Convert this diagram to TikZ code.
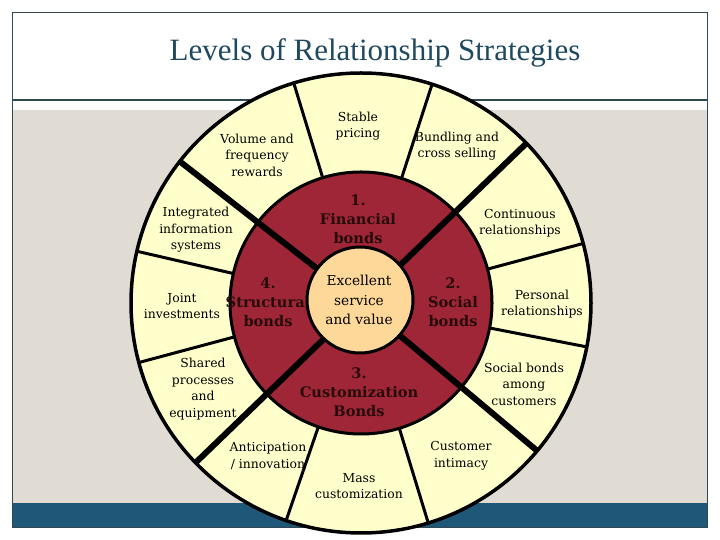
\documentclass[tikz,border=0pt]{standalone}
\usepackage{fontspec}
\setmainfont{DejaVu Serif}
\newfontfamily\titlefont{Liberation Serif}
\definecolor{paleyel}{RGB}{255,255,204}
\definecolor{bondred}{RGB}{158,38,54}
\definecolor{peach}{RGB}{253,216,153}
\definecolor{beige}{RGB}{224,220,211}
\definecolor{barblue}{RGB}{31,87,120}
\definecolor{framec}{RGB}{47,72,84}
\definecolor{titlec}{RGB}{31,73,95}
\definecolor{bondtext}{RGB}{40,12,12}
\tikzset{
  small/.style={align=center, inner sep=0pt, text=black, font={\fontsize{12.4}{16.5}\selectfont}},
  bondlbl/.style={align=center, inner sep=0pt, text=bondtext, font={\fontsize{14.6}{19}\selectfont\bfseries}},
  corelbl/.style={align=center, inner sep=0pt, text=black, font={\fontsize{13.7}{19.5}\selectfont}},
  thinspoke/.style={line width=3pt, black},
  thickspoke/.style={line width=6pt, black},
}
\begin{document}
\begin{tikzpicture}[x=1pt,y=1pt]
\useasboundingbox (0,0) rectangle (720,540);
\fill[white] (0,0) rectangle (720,540);
% slide background
\fill[beige] (13,37) rectangle (707,430);
\fill[barblue] (12.5,12.5) rectangle (707.5,37);
\draw[framec, line width=1.2pt] (12.5,12.5) rectangle (707.5,527.5);
\draw[framec, line width=1.2pt] (12.5,440) -- (707.5,440);
\node[text=titlec, font={\titlefont\fontsize{31}{36}\selectfont}] (title) at (375,487) {Levels of Relationship Strategies};
% wheel
\coordinate (C) at (361,237);
\fill[paleyel] (C) circle (230);
\foreach \a in {72,107,167,195,251,287,-11,15}
  \draw[thinspoke] ([shift={(\a:120)}]C) -- ([shift={(\a:230)}]C);
\draw[black, line width=3.5pt] (C) circle (230);
\filldraw[fill=bondred, draw=black, line width=3pt] (C) circle (131);
\foreach \a in {44,142,224,320}
  \draw[thickspoke] ([shift={(\a:45)}]C) -- ([shift={(\a:229)}]C);
% bond labels
\node[bondlbl] (b1) at (358,321) {1.\\Financial\\bonds};
\node[bondlbl] (b2) at (453,238) {2.\\Social\\bonds};
\node[bondlbl] (b3) at (359,148) {3.\\Customization\\Bonds};
\node[bondlbl] (b4) at (268,238) {4.\\Structural\\bonds};
% core
\filldraw[fill=peach, draw=black, line width=3pt] (360,240) circle (53);
\node[corelbl] (core) at (359,240) {Excellent\\service\\and value};
% outer labels
\node[small] (l1) at (358,414) {Stable\\pricing};
\node[small] (l2) at (257,385) {Volume and\\frequency\\rewards};
\node[small] (l3) at (457,394) {Bundling and\\cross selling};
\node[small] (l4) at (196,310) {Integrated\\information\\systems};
\node[small] (l5) at (520,317) {Continuous\\relationships};
\node[small] (l6) at (182,234) {Joint\\investments};
\node[small] (l7) at (542,236) {Personal\\relationships};
\node[small] (l8) at (203,151) {Shared\\processes\\and\\equipment};
\node[small] (l9) at (524,156) {Social bonds\\among\\customers};
\node[small] (l10) at (268,84) {Anticipation\\/ innovation};
\node[small] (l11) at (461,84) {Customer\\intimacy};
\node[small] (l12) at (359,54) {Mass\\customization};
\end{tikzpicture}
\end{document}
